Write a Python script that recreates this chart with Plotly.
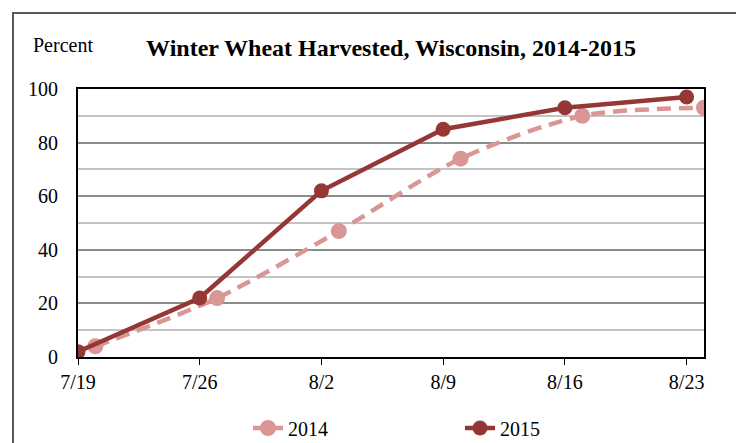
import plotly.graph_objects as go

# Week-ending dates, aligned onto one calendar year for comparison
dates_2015 = ["2015-07-19", "2015-07-26", "2015-08-02", "2015-08-09", "2015-08-16", "2015-08-23"]
dates_2014 = ["2015-07-20", "2015-07-27", "2015-08-03", "2015-08-10", "2015-08-17", "2015-08-24"]
values_2014 = [4, 22, 47, 74, 90, 93]
values_2015 = [2, 22, 62, 85, 93, 97]
tick_labels = ["7/19", "7/26", "8/2", "8/9", "8/16", "8/23"]

FONT = "Liberation Serif, Times New Roman, serif"
C2014 = "#D99694"
C2015 = "#953735"

OFF = 8  # default page body margin
W, H = 744 - OFF, 443 - OFF
# plot area in page pixels: left 78, right 704, top 89, bottom 357
L = 78 - OFF
T = 89 - OFF
R = W - (704 - OFF)
B = H - (357 - OFF)
pw, ph = W - L - R, H - T - B


def px(x):
    return (x - OFF - L) / pw


def py(y):
    return (357 - y) / ph


fig = go.Figure()
fig.add_trace(go.Scatter(
    x=dates_2014, y=values_2014, name="2014", mode="lines+markers",
    line=dict(color=C2014, width=4.5, dash="14px,8px", shape="spline", smoothing=0.8),
    marker=dict(color=C2014, size=16),
))
fig.add_trace(go.Scatter(
    x=dates_2015, y=values_2015, name="2015", mode="lines+markers",
    line=dict(color=C2015, width=4.5),
    marker=dict(color=C2015, size=15),
))

fig.update_layout(
    width=W, height=H,
    margin=dict(l=L, r=R, t=T, b=B, pad=0, autoexpand=False),
    paper_bgcolor="white", plot_bgcolor="white",
    font=dict(family=FONT, size=20, color="black"),
    title=dict(text="<b>Winter Wheat Harvested, Wisconsin, 2014-2015</b>",
               font=dict(family=FONT, size=24, color="black"),
               xref="paper", x=px(391), xanchor="center",
               yref="container", y=1 - (48 - OFF) / H, yanchor="middle"),
    showlegend=True,
    legend=dict(orientation="h", x=px(460), xanchor="center", y=py(428), yanchor="middle",
                font=dict(family=FONT, size=20), entrywidth=167, entrywidthmode="pixels",
                bgcolor="rgba(0,0,0,0)"),
    xaxis=dict(type="date", range=["2015-07-19", "2015-08-24"],
               tickvals=dates_2015, ticktext=tick_labels,
               showgrid=False, showline=True, mirror=True, linecolor="black", linewidth=2,
               ticks="outside", ticklen=6, tickcolor="black", tickwidth=1,
               tickfont=dict(family=FONT, size=20), zeroline=False),
    yaxis=dict(range=[0, 100], tickvals=[0, 20, 40, 60, 80, 100],
               showgrid=True, gridcolor="#8C8C8C", gridwidth=1.5,
               minor=dict(dtick=10, showgrid=True, gridcolor="#C4C4C4", gridwidth=1.5),
               showline=True, mirror=True, linecolor="black", linewidth=2,
               ticks="", ticklabelstandoff=14,
               tickfont=dict(family=FONT, size=20), zeroline=False),
    annotations=[dict(text="Percent", xref="paper", yref="paper",
                      x=px(31), y=py(45), xanchor="left", yanchor="middle",
                      showarrow=False, font=dict(family=FONT, size=20))],
    shapes=[dict(type="rect", xref="paper", yref="paper",
                 x0=px(13), x1=px(737), y0=py(470), y1=py(13),
                 line=dict(color="#595959", width=2), fillcolor="rgba(0,0,0,0)", layer="below")],
)

fig.write_html("out.html")
